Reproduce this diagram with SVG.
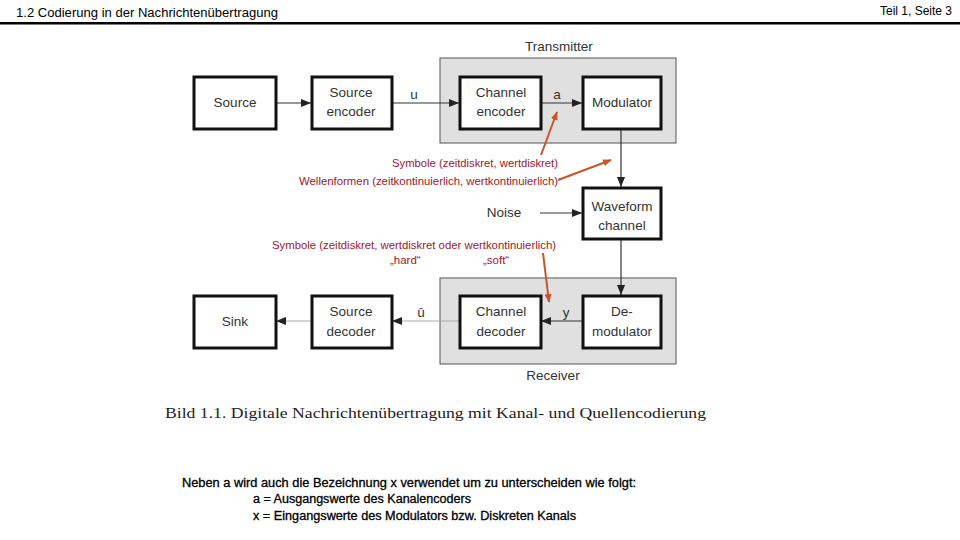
<svg xmlns="http://www.w3.org/2000/svg" width="960" height="540" viewBox="0 0 960 540">
<defs>
<marker id="ah" viewBox="0 0 10 8" refX="10" refY="4" markerWidth="10" markerHeight="8" markerUnits="userSpaceOnUse" orient="auto"><path d="M0,0 L10,4 L0,8 z" fill="#222"/></marker>
<marker id="oh" viewBox="0 0 10 8" refX="9" refY="4" markerWidth="9" markerHeight="7" markerUnits="userSpaceOnUse" orient="auto"><path d="M0,0 L10,4 L0,8 z" fill="#c8552a"/></marker>
</defs>
<style>
.hdr{font-family:"Liberation Sans",Arial,sans-serif;font-size:12px;fill:#000}
.blk rect{fill:#fff;stroke:#111;stroke-width:3}
.blk text,.lbl{font-family:"Liberation Sans",Arial,sans-serif;font-size:13.5px;fill:#333;text-anchor:middle}
.grp{fill:#e0e0e0;stroke:#555;stroke-width:1}
.con{stroke:#333;stroke-width:1.2;fill:none;marker-end:url(#ah)}
.conl{stroke:#aaa;stroke-width:1;fill:none;marker-end:url(#ah)}
.red{font-family:"Liberation Sans",Arial,sans-serif;font-size:11.5px;fill:#a01828}
.oar{stroke:#c8552a;stroke-width:2;fill:none;marker-end:url(#oh)}
.note{font-family:"Liberation Sans",Arial,sans-serif;font-size:12px;fill:#000;stroke:#000;stroke-width:0.3}
.cap{font-family:"Liberation Serif","Times New Roman",serif;font-size:15.5px;fill:#222}
</style>
<rect width="960" height="540" fill="#fff"/>
<g id="header">
<text class="hdr" x="16" y="17" textLength="262" lengthAdjust="spacingAndGlyphs">1.2 Codierung in der Nachrichtenübertragung</text>
<text class="hdr" x="952" y="15" text-anchor="end" font-size="11">Teil 1, Seite 3</text>
<rect x="0" y="22" width="960" height="2.5" fill="#000"/>
</g>
<g id="transmitter">
<rect class="grp" x="440" y="58" width="236" height="85"/>
<text class="lbl" x="559" y="51">Transmitter</text>
</g>
<g id="receiver">
<rect class="grp" x="440" y="278" width="236" height="86"/>
<text class="lbl" x="553" y="380">Receiver</text>
</g>
<g id="connectors">
<line class="con" x1="276" y1="103" x2="311" y2="103"/>
<line class="con" x1="392" y1="103" x2="459" y2="103"/>
<line class="con" x1="541" y1="103" x2="582" y2="103"/>
<line class="con" x1="621" y1="129" x2="621" y2="187"/>
<line class="con" x1="540" y1="213" x2="582" y2="213"/>
<line class="con" x1="621" y1="239" x2="621" y2="295"/>
<line class="con" x1="582" y1="321" x2="541" y2="321"/>
<line class="conl" x1="459" y1="321" x2="392" y2="321"/>
<line class="conl" x1="311" y1="321" x2="276" y2="321"/>
<text class="lbl" x="414" y="99">u</text>
<text class="lbl" x="557" y="99">a</text>
<text class="lbl" x="566" y="317">y</text>
<text class="lbl" x="421" y="317">û</text>
<text class="lbl" x="504" y="217">Noise</text>
</g>
<g id="source" class="blk"><rect x="194" y="77" width="82" height="52"/><text x="235" y="107">Source</text></g>
<g id="source-encoder" class="blk"><rect x="312" y="77" width="80" height="52"/><text x="351" y="97">Source</text><text x="351" y="116">encoder</text></g>
<g id="channel-encoder" class="blk"><rect x="460" y="77" width="81" height="52"/><text x="501" y="97">Channel</text><text x="501" y="116">encoder</text></g>
<g id="modulator" class="blk"><rect x="583" y="77" width="78" height="52"/><text x="622" y="107">Modulator</text></g>
<g id="waveform-channel" class="blk"><rect x="583" y="188" width="78" height="51"/><text x="622" y="211">Waveform</text><text x="622" y="230">channel</text></g>
<g id="demodulator" class="blk"><rect x="583" y="296" width="78" height="52"/><text x="622" y="316">De-</text><text x="622" y="336">modulator</text></g>
<g id="channel-decoder" class="blk"><rect x="460" y="296" width="81" height="52"/><text x="501" y="316">Channel</text><text x="501" y="336">decoder</text></g>
<g id="source-decoder" class="blk"><rect x="312" y="296" width="80" height="52"/><text x="351" y="316">Source</text><text x="351" y="336">decoder</text></g>
<g id="sink" class="blk"><rect x="194" y="296" width="82" height="52"/><text x="235" y="326">Sink</text></g>
<g id="annotations">
<line class="oar" x1="541" y1="155" x2="557" y2="112"/>
<line class="oar" x1="558" y1="180" x2="611" y2="160"/>
<line class="oar" x1="543" y1="253" x2="549" y2="302"/>
<text class="red" x="392" y="167" textLength="166" lengthAdjust="spacingAndGlyphs">Symbole (zeitdiskret, wertdiskret)</text>
<text class="red" x="299" y="185" textLength="259" lengthAdjust="spacingAndGlyphs">Wellenformen (zeitkontinuierlich, wertkontinuierlich)</text>
<text class="red" x="272" y="249" textLength="284" lengthAdjust="spacingAndGlyphs">Symbole (zeitdiskret,  wertdiskret oder wertkontinuierlich)</text>
<text class="red" x="390" y="264">„hard“</text>
<text class="red" x="483" y="264">„soft“</text>
</g>
<g id="caption">
<text class="cap" x="165" y="418" textLength="541" lengthAdjust="spacingAndGlyphs">Bild  1.1.  Digitale Nachrichtenübertragung mit Kanal- und Quellencodierung</text>
</g>
<g id="note">
<text class="note" x="182" y="487" textLength="454" lengthAdjust="spacingAndGlyphs">Neben a wird auch die Bezeichnung x verwendet um zu unterscheiden wie folgt:</text>
<text class="note" x="253" y="503" textLength="218" lengthAdjust="spacingAndGlyphs">a = Ausgangswerte des Kanalencoders</text>
<text class="note" x="253" y="520" textLength="323" lengthAdjust="spacingAndGlyphs">x = Eingangswerte des Modulators bzw. Diskreten Kanals</text>
</g>
</svg>
